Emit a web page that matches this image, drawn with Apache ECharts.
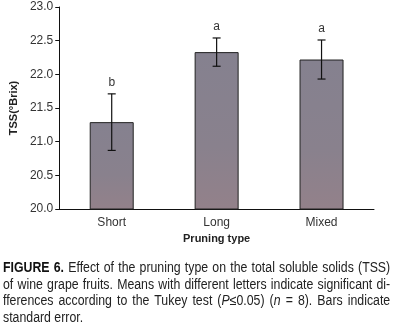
<!DOCTYPE html>
<html>
<head>
<meta charset="utf-8">
<script src="https://cdn.jsdelivr.net/npm/echarts@6/dist/echarts.min.js"></script>
<style>
body { margin: 0; background: #fff; }
#chart { width: 394px; height: 327px; position: absolute; left: 0; top: 0; }
#caption {
	position: absolute; left: 3px; top: 259px; width: 440px;
	transform: scaleX(0.88); transform-origin: 0 0;
	font-family: 'Liberation Sans', Arial, sans-serif;
	font-size: 14px; line-height: 16.7px; color: #222; text-align: justify;
}
#caption b { color: #111; }
</style>
</head>
<body>
<div id="chart"></div>
<div id="caption"><b>FIGURE 6.</b> Effect of the pruning type on the total soluble solids (TSS) of wine grape fruits. Means with different letters indicate significant di-fferences according to the Tukey test (<i>P</i>≤0.05) (<i>n</i> = 8). Bars indicate standard error.</div>
<script>
// 修剪类型与TSS
var categories = ['Short', 'Long', 'Mixed'];
var means = [21.29, 22.33, 22.22];
var errors = [0.42, 0.21, 0.29];
var letters = ['b', 'a', 'a'];
var yTicks = [20.0, 20.5, 21.0, 21.5, 22.0, 22.5, 23.0];

var font = "'Liberation Sans', Arial, sans-serif";

var errData = [];
for (var i = 0; i < means.length; i++) {
	errData.push([i, means[i] - errors[i], means[i] + errors[i], letters[i]]);
}

var chart = echarts.init(document.getElementById('chart'));
var option = {
	animation: false,
	grid: { left: 49, right: 20, top: 7, bottom: 118 },
	xAxis: {
		type: 'category',
		data: categories,
		name: 'Pruning type',
		nameLocation: 'middle',
		nameGap: 24,
		nameTextStyle: { fontFamily: font, fontWeight: 'bold', fontSize: 11, color: '#222' },
		axisLine: { lineStyle: { color: '#111', width: 1 } },
		axisTick: { length: 4, lineStyle: { color: '#111' } },
		axisLabel: { fontFamily: font, fontSize: 12, color: '#333', margin: 8 }
	},
	yAxis: {
		type: 'value',
		min: yTicks[0],
		max: yTicks[yTicks.length - 1],
		interval: 0.5,
		name: 'TSS(°Brix)',
		nameLocation: 'middle',
		nameGap: 37,
		nameTextStyle: { fontFamily: font, fontWeight: 'bold', fontSize: 11, color: '#222' },
		splitLine: { show: false },
		axisLine: { show: true, lineStyle: { color: '#111', width: 1 } },
		axisTick: { show: true, length: 4, lineStyle: { color: '#111' } },
		axisLabel: {
			fontFamily: font, fontSize: 12, color: '#333', margin: 6,
			formatter: function (v) { return v.toFixed(1); }
		}
	},
	series: [{
		type: 'bar',
		data: means,
		barWidth: 44,
		itemStyle: {
			color: new echarts.graphic.LinearGradient(0, 0, 0, 1, [
				{ offset: 0, color: '#85818f' },
				{ offset: 0.6, color: '#89818d' },
				{ offset: 1, color: '#93818a' }
			]),
			borderColor: '#222',
			borderWidth: 1
		}
	}, {
		type: 'custom',
		data: errData,
		z: 10,
		renderItem: function (params, api) {
			var x = api.value(0);
			var lo = api.coord([x, api.value(1)]);
			var hi = api.coord([x, api.value(2)]);
			var cap = 4;
			var st = { stroke: '#111', lineWidth: 1.2 };
			return {
				type: 'group',
				children: [
					{ type: 'line', shape: { x1: hi[0], y1: hi[1], x2: lo[0], y2: lo[1] }, style: st },
					{ type: 'line', shape: { x1: hi[0] - cap, y1: hi[1], x2: hi[0] + cap, y2: hi[1] }, style: st },
					{ type: 'line', shape: { x1: lo[0] - cap, y1: lo[1], x2: lo[0] + cap, y2: lo[1] }, style: st },
					{
						type: 'text',
						style: {
							text: api.value(3), x: hi[0], y: hi[1] - 5,
							align: 'center', verticalAlign: 'bottom',
							font: '12px ' + font, fill: '#333'
						}
					}
				]
			};
		}
	}]
};
chart.setOption(option);
</script>
</body>
</html>
